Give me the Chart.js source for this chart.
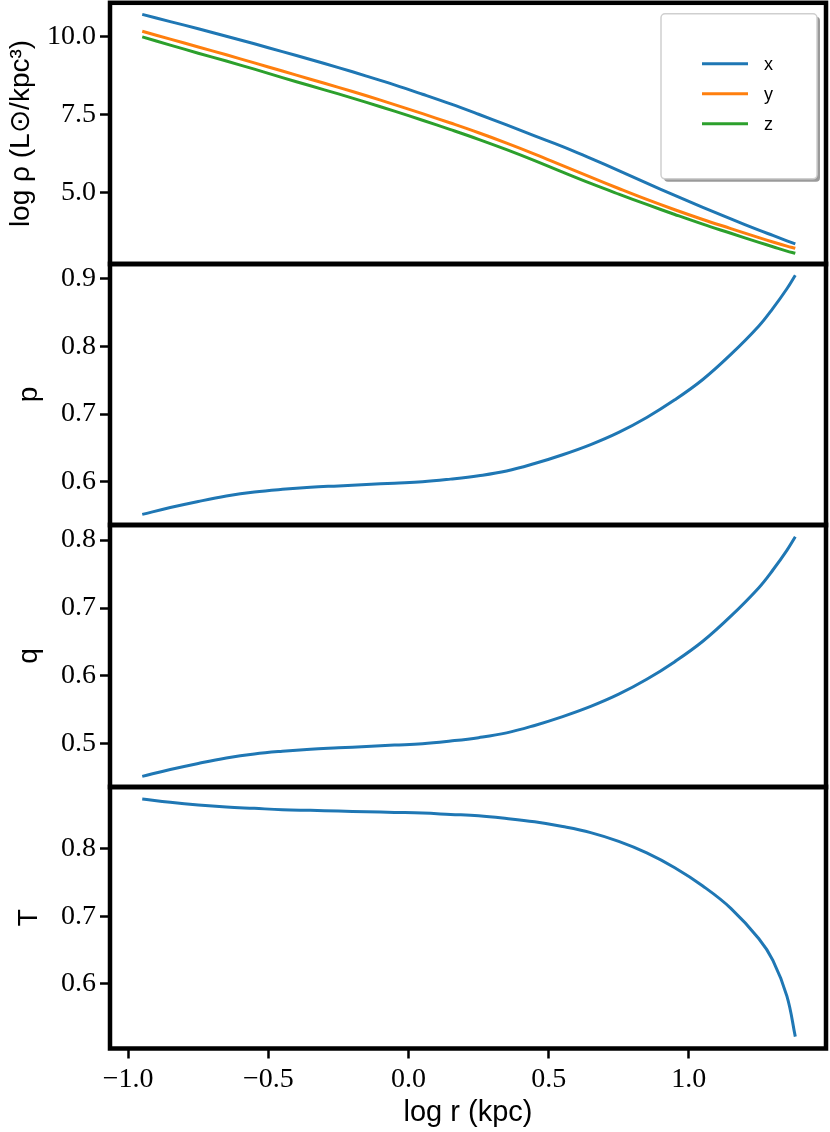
<!DOCTYPE html>
<html>
<head>
<meta charset="utf-8">
<script src="https://cdn.jsdelivr.net/npm/chart.js@4.4.1/dist/chart.umd.min.js"></script>
<style>
  body { margin: 0; background: #fff; }
  #wrap { position: relative; width: 830px; height: 1132px; overflow: hidden; }
  #wrap canvas { position: absolute; left: 0; }
</style>
</head>
<body>
<div id="wrap">
  <canvas id="c0"></canvas>
  <canvas id="c1"></canvas>
  <canvas id="c2"></canvas>
  <canvas id="c3"></canvas>
</div>
<script>
// log r (kpc)
var logR = [-0.95, -0.85, -0.75, -0.65, -0.55, -0.45, -0.35, -0.25, -0.15, -0.05,
            0.05, 0.15, 0.25, 0.35, 0.45, 0.55, 0.65, 0.75, 0.85, 0.95,
            1.05, 1.15, 1.25, 1.30, 1.35, 1.38];

// log rho along each axis
var rhoX = [10.70, 10.47, 10.24, 10.00, 9.76, 9.51, 9.26, 9.00, 8.73, 8.45,
            8.15, 7.84, 7.51, 7.17, 6.82, 6.48, 6.10, 5.71, 5.31, 4.92,
            4.54, 4.17, 3.81, 3.64, 3.47, 3.37];
var rhoY = [10.16, 9.91, 9.66, 9.41, 9.15, 8.89, 8.63, 8.37, 8.10, 7.82,
            7.53, 7.23, 6.92, 6.59, 6.24, 5.87, 5.50, 5.14, 4.79, 4.46,
            4.15, 3.86, 3.57, 3.43, 3.30, 3.23];
var rhoZ = [9.98, 9.72, 9.46, 9.21, 8.95, 8.68, 8.42, 8.16, 7.89, 7.61,
            7.32, 7.02, 6.71, 6.38, 6.03, 5.66, 5.30, 4.96, 4.63, 4.31,
            4.00, 3.71, 3.42, 3.28, 3.14, 3.07];

var pVals = [0.552, 0.562, 0.571, 0.579, 0.585, 0.589, 0.592, 0.594, 0.596, 0.598,
             0.600, 0.604, 0.609, 0.616, 0.627, 0.640, 0.655, 0.673, 0.695, 0.721,
             0.751, 0.788, 0.830, 0.856, 0.885, 0.905];
var qVals = [0.452, 0.462, 0.471, 0.479, 0.485, 0.489, 0.492, 0.494, 0.496, 0.498,
             0.500, 0.504, 0.509, 0.516, 0.527, 0.540, 0.555, 0.573, 0.595, 0.621,
             0.651, 0.688, 0.730, 0.756, 0.785, 0.805];
var tVals = [0.874, 0.869, 0.865, 0.862, 0.860, 0.858, 0.857, 0.856, 0.855, 0.854,
             0.853, 0.851, 0.849, 0.845, 0.840, 0.833, 0.824, 0.811, 0.794, 0.772,
             0.745, 0.712, 0.667, 0.635, 0.582, 0.522];

// tick labels
var xTicks = [-1.0, -0.5, 0.0, 0.5, 1.0];
var rhoTicks = [5.0, 7.5, 10.0];
var pTicks = [0.6, 0.7, 0.8, 0.9];
var qTicks = [0.5, 0.6, 0.7, 0.8];
var tTicks = [0.6, 0.7, 0.8];

var BLUE = '#1f77b4', ORANGE = '#ff7f0e', GREEN = '#2ca02c';
var serif = "'Liberation Serif', 'DejaVu Serif', serif";
var sans = "'Liberation Sans', 'DejaVu Sans', sans-serif";

function pts(ys) {
  return logR.map(function (x, i) { return { x: x, y: ys[i] }; });
}
function line(label, ys, color) {
  return { label: label, data: pts(ys), borderColor: color, backgroundColor: color,
           borderWidth: 3, pointRadius: 0, tension: 0.4, fill: false };
}

// black box around each panel
var frame = {
  id: 'frame',
  afterDraw: function (chart) {
    var a = chart.chartArea, ctx = chart.ctx;
    ctx.save();
    ctx.strokeStyle = '#000';
    ctx.lineWidth = 4.5;
    ctx.strokeRect(a.left, a.top, a.right - a.left, a.bottom - a.top);
    ctx.restore();
  }
};

// matplotlib style legend box with shadow
var legendBox = {
  id: 'legendBox',
  afterDraw: function (chart) {
    var a = chart.chartArea, ctx = chart.ctx;
    var bx = a.right - 165, by = a.top + 11, bw = 156, bh = 165;
    ctx.save();
    ctx.fillStyle = '#9a9a9a';
    ctx.beginPath(); ctx.roundRect(bx + 3, by + 3, bw, bh, 4); ctx.fill();
    ctx.fillStyle = '#fff';
    ctx.strokeStyle = '#cfcfcf';
    ctx.lineWidth = 1.5;
    ctx.beginPath(); ctx.roundRect(bx, by, bw, bh, 4); ctx.fill(); ctx.stroke();
    ctx.font = '18px ' + sans;
    ctx.textBaseline = 'middle';
    chart.data.datasets.forEach(function (ds, i) {
      var y = by + 50 + i * 30;
      ctx.strokeStyle = ds.borderColor;
      ctx.lineWidth = 3;
      ctx.beginPath(); ctx.moveTo(bx + 41, y); ctx.lineTo(bx + 87, y); ctx.stroke();
      ctx.fillStyle = '#000';
      ctx.fillText(ds.label, bx + 103, y + 1);
    });
    ctx.restore();
  }
};

var panels = [
  { id: 'c0', top: 2.5, bottom: 263.5, min: 2.722, max: 11.07, ticks: rhoTicks,
    title: 'log ρ (L⊙/kpc³)', pad: 4, sets: [line('x', rhoX, BLUE), line('y', rhoY, ORANGE), line('z', rhoZ, GREEN)] },
  { id: 'c1', top: 263.5, bottom: 525, min: 0.536, max: 0.9218, ticks: pTicks,
    title: 'p', pad: 12, sets: [line('p', pVals, BLUE)] },
  { id: 'c2', top: 525, bottom: 787, min: 0.436, max: 0.8226, ticks: qTicks,
    title: 'q', pad: 12, sets: [line('q', qVals, BLUE)] },
  { id: 'c3', top: 787, bottom: 1048.5, min: 0.5044, max: 0.8919, ticks: tTicks,
    title: 'T', pad: 12, sets: [line('T', tVals, BLUE)] }
];

function build(p, k, top, h) {
  var last = k === panels.length - 1;
  var cv = document.getElementById(p.id);
  cv.width = 830; cv.height = Math.round(h);
  cv.style.top = top + 'px';
  cv.style.width = '830px'; cv.style.height = Math.round(h) + 'px';

  return new Chart(cv.getContext('2d'), {
    type: 'line',
    data: { datasets: p.sets },
    plugins: k === 0 ? [frame, legendBox] : [frame],
    options: {
      responsive: false,
      animation: false,
      devicePixelRatio: 1,
      layout: { padding: { top: 0, bottom: 0, left: 0, right: 4 } },
      plugins: { legend: { display: false }, tooltip: { enabled: false } },
      scales: {
        x: {
          type: 'linear', min: -1.065, max: 1.4895, display: last,
          afterFit: function (s) { if (last) s.height = 1132 - 1048.5; },
          afterBuildTicks: function (s) { s.ticks = xTicks.map(function (v) { return { value: v }; }); },
          grid: { drawOnChartArea: false, drawTicks: true, tickLength: 10, tickWidth: 2.5, color: '#000' },
          border: { display: false },
          ticks: {
            color: '#000', padding: 4, maxRotation: 0, font: { family: serif, size: 28 },
            callback: function (v) { return (v < 0 ? '\u2212' : '') + Math.abs(v).toFixed(1); }
          },
          title: { display: true, text: 'log r (kpc)', color: '#000',
                   font: { family: sans, size: 29 }, padding: { top: 0, bottom: 2 } }
        },
        y: {
          type: 'linear', min: p.min, max: p.max,
          afterFit: function (s) { s.width = 110; },
          afterBuildTicks: function (s) { s.ticks = p.ticks.map(function (v) { return { value: v }; }); },
          grid: { drawOnChartArea: false, drawTicks: true, tickLength: 10, tickWidth: 2.5, color: '#000' },
          border: { display: false },
          ticks: {
            color: '#000', padding: 4, font: { family: serif, size: 28 },
            callback: function (v) { return v.toFixed(1); }
          },
          title: { display: true, text: p.title, color: '#000',
                   font: { family: sans, size: 28 }, padding: { top: p.pad, bottom: 0 } }
        }
      }
    }
  });
}

panels.forEach(function (p, k) {
  // first pass: find how much room the library leaves round the plot area
  var guessH = p.bottom - p.top + 150;
  var ch = build(p, k, 0, guessH);
  var topOff = ch.chartArea.top;
  var botOff = ch.height - ch.chartArea.bottom;
  ch.destroy();
  // second pass: place the canvas so the plot area sits on the panel box
  build(p, k, p.top - topOff, topOff + (p.bottom - p.top) + botOff);
});
</script>
</body>
</html>
